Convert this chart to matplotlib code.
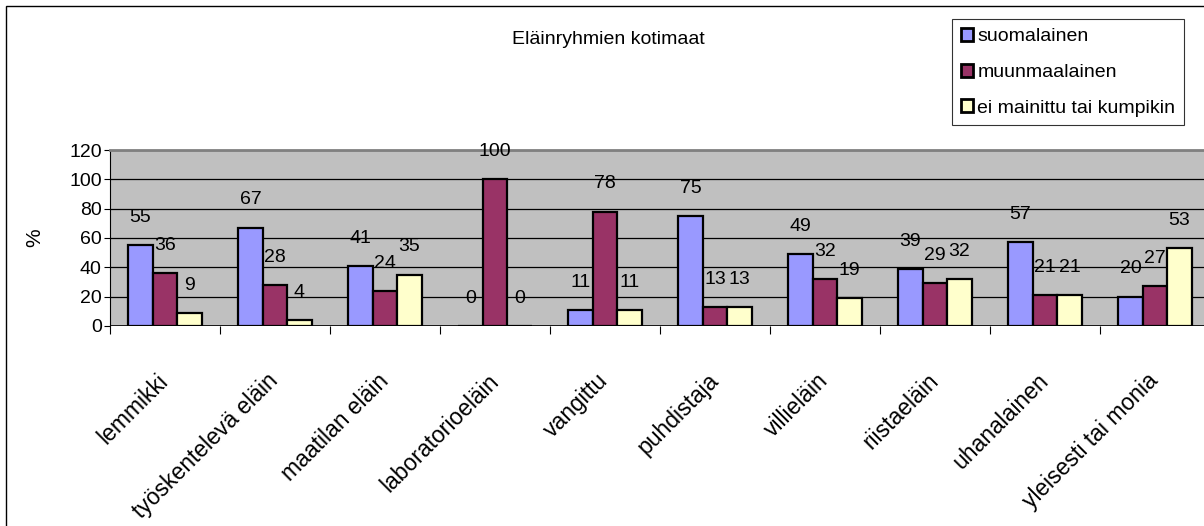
import numpy as np
import matplotlib.pyplot as plt
from matplotlib.patches import Rectangle

plt.rcParams['font.family'] = ['Liberation Sans', 'DejaVu Sans']

categories = ["lemmikki", "työskentelevä eläin", "maatilan eläin",
              "laboratorioeläin", "vangittu", "puhdistaja", "villieläin",
              "riistaeläin", "uhanalainen", "yleisesti tai monia"]
suomalainen = [55, 67, 41, 0, 11, 75, 49, 39, 57, 20]
muunmaalainen = [36, 28, 24, 100, 78, 13, 32, 29, 21, 27]
ei_mainittu = [9, 4, 35, 0, 11, 13, 19, 32, 21, 53]

series = [("suomalainen", suomalainen, "#9999FF"),
          ("muunmaalainen", muunmaalainen, "#993366"),
          ("ei mainittu tai kumpikin", ei_mainittu, "#FFFFCC")]

W, H = 1204, 526
fig = plt.figure(figsize=(W / 100, H / 100), dpi=100)

# chart border (only left and top are visible)
fig.patches.append(Rectangle((6 / W, -0.1), 1.2, (520 / H) + 0.1,
                             transform=fig.transFigure, fill=False,
                             edgecolor="black", linewidth=1.0))

ax = fig.add_axes([110 / W, (H - 326) / H, 1100 / W, 176 / H])
ax.set_facecolor("#C0C0C0")
for s in ["right", "bottom"]:
    ax.spines[s].set_visible(False)
ax.spines["top"].set_color("#808080")
ax.spines["top"].set_linewidth(2)
ax.spines["left"].set_color("black")

x = np.arange(len(categories))
bw = 24.5 / 110
for i, (name, vals, col) in enumerate(series):
    pos = x + 0.5 + (i - 1) * bw
    ax.bar(pos, vals, width=bw, color=col, edgecolor="black",
           linewidth=1.6, label=name, zorder=3)
    for px, v in zip(pos, vals):
        ax.annotate(str(v), (px, v), xytext=(0, 20), textcoords="offset points",
                    ha="center", va="center", fontsize=14, zorder=4)

ax.set_xlim(0, len(categories))
ax.set_ylim(0, 120)
ax.set_yticks(range(0, 121, 20))
ax.tick_params(axis="y", labelsize=14, length=4, pad=2)
ax.yaxis.grid(True, color="black", linewidth=0.9, zorder=1)
ax.set_axisbelow(True)
ax.axhline(0, color="black", linewidth=1.2, zorder=5)

ax.set_xticks(np.arange(len(categories) + 1))
ax.set_xticklabels([])
ax.tick_params(axis="x", direction="out", length=6, color="black")
for xi, lab in zip(x, categories):
    ax.text(xi + 0.5, -35, lab, rotation=45, rotation_mode="anchor",
            ha="right", va="center", fontsize=16.5,
            transform=ax.transData, clip_on=False)

ax.set_ylabel("%", fontsize=15)
ax.yaxis.set_label_coords(-0.06, 0.5)

fig.text(608 / W, 1 - 40 / H, "Eläinryhmien kotimaat", ha="center",
         va="center", fontsize=14)

leg = fig.legend(loc="upper left", bbox_to_anchor=(952 / W, 1 - 19 / H),
                 frameon=True, fancybox=False, edgecolor="black",
                 fontsize=14, handlelength=0.65, handleheight=0.65,
                 handletextpad=0.2, labelspacing=0.95, borderpad=0.45,
                 borderaxespad=0)
leg.get_frame().set_linewidth(0.8)
for h in leg.legend_handles:
    h.set_linewidth(2)

fig.savefig("out.png", dpi=100)
